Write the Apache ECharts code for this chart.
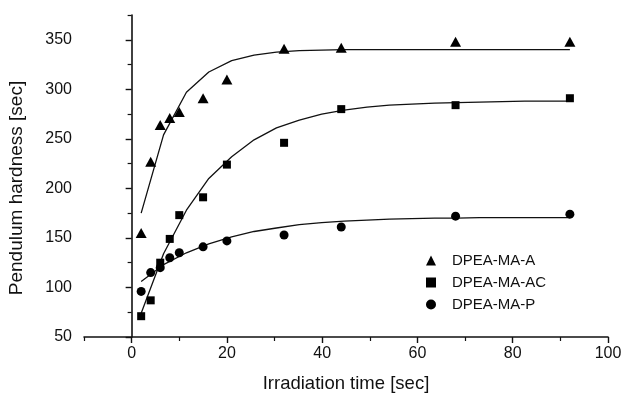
<!DOCTYPE html>
<html>
<head>
<meta charset="utf-8">
<script src="https://cdn.jsdelivr.net/npm/echarts@6/dist/echarts.min.js"></script>
<style>
html,body{margin:0;padding:0;background:#fff;}
#c{width:622px;height:393px;}
</style>
</head>
<body>
<div id="c"></div>
<script>
// Measured data
var timeX = [2, 4, 6, 8, 10, 15, 20, 32, 44, 68, 92];
var valA  = [155, 227, 264, 271, 277, 291, 310, 341, 342, 348, 348];
var valAC = [71, 87, 125, 149, 173, 191, 224, 246, 280, 284, 291];
var valP  = [96, 115, 120, 130, 135, 141, 147, 153, 161, 172, 174];

// Fitted curves
var fitX   = [2, 6.7, 11.5, 16.2, 21, 25.7, 30.4, 35.2, 39.9, 44.6, 49.4, 54.1, 58.8, 63.6, 68.3, 73, 77.8, 82.5, 87.3, 92];
var fitA   = [175, 254, 297, 317.5, 329, 334.5, 337.5, 339, 339.5, 340, 340, 340, 340, 340, 340, 340, 340, 340, 340, 340];
var fitAC  = [74, 134, 178, 210, 232, 249, 261, 269, 275, 279, 282, 284, 285, 286, 286.5, 287, 287.5, 288, 288, 288];
var fitP   = [106, 123, 135, 144, 151, 156.5, 160, 163.5, 165.5, 167, 168, 169, 169.5, 170, 170, 170.5, 170.5, 170.5, 170.5, 170.5];

var seriesNames = ['DPEA-MA-A', 'DPEA-MA-AC', 'DPEA-MA-P'];
var xMajor = [0, 20, 40, 60, 80, 100];
var xMinor = [-10, 10, 30, 50, 70, 90];
var yMajor = [50, 100, 150, 200, 250, 300, 350];
var yMinor = [75, 125, 175, 225, 275, 325, 375];

function pairs(xs, ys){ return xs.map(function(x,i){ return [x, ys[i]]; }); }

var ink = '#111';
var fontFam = '"Liberation Sans", Arial, Helvetica, sans-serif';

var chart = echarts.init(document.getElementById('c'), null, {renderer:'canvas'});
var baseX = {
  type:'value', min:-10, max:100, interval:10, gridIndex:0, position:'bottom',
  splitLine:{show:false}
};
var baseY = {
  type:'value', min:50, max:375, interval:25, gridIndex:0, position:'left',
  splitLine:{show:false}
};
chart.setOption({
  animation:false,
  backgroundColor:'#fff',
  textStyle:{fontFamily:fontFam, color:ink},
  grid:{left:84, right:14, top:15, bottom:56, containLabel:false, outerBoundsMode:'none'},
  legend:{
    orient:'vertical', left:421, top:248,
    itemWidth:10, itemHeight:10, itemGap:7,
    symbolKeepAspect:true,
    data:[
      {name:seriesNames[0], icon:'triangle'},
      {name:seriesNames[1], icon:'rect'},
      {name:seriesNames[2], icon:'circle'}
    ],
    textStyle:{fontSize:15, color:ink, fontFamily:fontFam, padding:[0,0,0,11]}
  },
  xAxis:[
    Object.assign({}, baseX, {
      name:'Irradiation time [sec]', nameLocation:'middle', nameGap:37,
      nameTextStyle:{fontSize:18.5, color:ink, fontFamily:fontFam},
      axisLine:{lineStyle:{color:ink, width:1.6}},
      axisTick:{customValues:xMajor, length:6, inside:false, lineStyle:{color:ink, width:1.4}},
      axisLabel:{customValues:xMajor, fontSize:16, color:ink, margin:9, fontFamily:fontFam}
    }),
    Object.assign({}, baseX, {
      axisLine:{show:false},
      axisTick:{customValues:xMinor, length:4, inside:false, lineStyle:{color:ink, width:1.2}},
      axisLabel:{show:false}
    })
  ],
  yAxis:[
    Object.assign({}, baseY, {
      name:'Pendulum hardness [sec]', nameLocation:'middle', nameGap:58,
      nameTextStyle:{fontSize:19, color:ink, fontFamily:fontFam, padding:[0,24,0,0]},
      axisLine:{show:true, lineStyle:{color:ink, width:1.6}},
      axisTick:{customValues:yMajor, length:6, inside:false, lineStyle:{color:ink, width:1.4}},
      axisLabel:{customValues:yMajor, fontSize:16, color:ink, margin:12, fontFamily:fontFam}
    }),
    Object.assign({}, baseY, {
      axisLine:{show:false},
      axisTick:{customValues:yMinor, length:4, inside:false, lineStyle:{color:ink, width:1.2}},
      axisLabel:{show:false}
    })
  ],
  series:[
    {name:'fitA', type:'line', data:pairs(fitX, fitA), symbol:'none', lineStyle:{color:ink, width:1.3}, z:2, silent:true},
    {name:'fitAC', type:'line', data:pairs(fitX, fitAC), symbol:'none', lineStyle:{color:ink, width:1.3}, z:2, silent:true},
    {name:'fitP', type:'line', data:pairs(fitX, fitP), symbol:'none', lineStyle:{color:ink, width:1.3}, z:2, silent:true},
    {name:seriesNames[0], type:'scatter', data:pairs(timeX, valA), symbol:'triangle', symbolSize:[11,10], itemStyle:{color:'#000', opacity:1}, z:3},
    {name:seriesNames[1], type:'scatter', data:pairs(timeX, valAC), symbol:'rect', symbolSize:8, itemStyle:{color:'#000', opacity:1}, z:3},
    {name:seriesNames[2], type:'scatter', data:pairs(timeX, valP), symbol:'circle', symbolSize:9, itemStyle:{color:'#000', opacity:1}, z:3}
  ]
});
</script>
</body>
</html>
